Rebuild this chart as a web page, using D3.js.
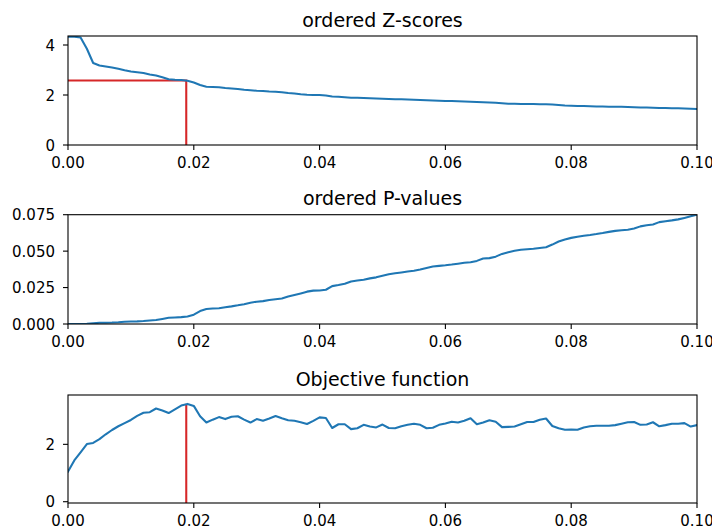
<!DOCTYPE html>
<html>
<head>
<meta charset="utf-8">
<script src="https://cdn.jsdelivr.net/npm/d3@7"></script>
<style>
  body { margin: 0; background: #fff; }
  text { font-family: "DejaVu Sans", sans-serif; fill: #000; }
</style>
</head>
<body>
<div id="my_dataviz"></div>
<script>
// fraction of tests (x axis), one point every 0.001
var fractions = d3.range(101).map(function (i) { return i / 1000; });

// ordered z-scores
var zScores = [4.33, 4.33, 4.30, 3.85, 3.28, 3.18, 3.14, 3.10, 3.05, 2.99,
  2.94, 2.91, 2.88, 2.82, 2.78, 2.71, 2.63, 2.61, 2.60, 2.57,
  2.50, 2.40, 2.33, 2.32, 2.31, 2.28, 2.26, 2.24, 2.21, 2.19,
  2.17, 2.16, 2.14, 2.13, 2.11, 2.08, 2.06, 2.03, 2.01, 2.00,
  2.00, 1.98, 1.94, 1.93, 1.91, 1.89, 1.89, 1.88, 1.87, 1.86,
  1.85, 1.84, 1.83, 1.83, 1.82, 1.81, 1.80, 1.79, 1.78, 1.77,
  1.76, 1.76, 1.75, 1.74, 1.73, 1.72, 1.71, 1.70, 1.69, 1.67,
  1.65, 1.65, 1.64, 1.64, 1.64, 1.63, 1.63, 1.62, 1.60, 1.58,
  1.57, 1.56, 1.56, 1.55, 1.54, 1.54, 1.53, 1.53, 1.53, 1.52,
  1.51, 1.50, 1.50, 1.49, 1.48, 1.48, 1.47, 1.47, 1.46, 1.45, 1.44];

// ordered p-values
var pValues = [0.0000, 0.0000, 0.0000, 0.0001, 0.0005, 0.0008, 0.0009, 0.0010, 0.0012, 0.0015,
  0.0017, 0.0018, 0.0020, 0.0024, 0.0027, 0.0035, 0.0043, 0.0045, 0.0047, 0.0051,
  0.0064, 0.0089, 0.0103, 0.0106, 0.0108, 0.0115, 0.0121, 0.0128, 0.0136, 0.0146,
  0.0153, 0.0157, 0.0165, 0.0170, 0.0175, 0.0188, 0.0199, 0.0210, 0.0222, 0.0229,
  0.0230, 0.0235, 0.0260, 0.0267, 0.0276, 0.0292, 0.0298, 0.0304, 0.0313, 0.0320,
  0.0331, 0.0342, 0.0348, 0.0354, 0.0360, 0.0365, 0.0374, 0.0385, 0.0395, 0.0399,
  0.0403, 0.0408, 0.0414, 0.0420, 0.0424, 0.0433, 0.0449, 0.0452, 0.0462, 0.0481,
  0.0493, 0.0503, 0.0510, 0.0513, 0.0516, 0.0522, 0.0527, 0.0545, 0.0566, 0.0580,
  0.0591, 0.0599, 0.0606, 0.0611, 0.0617, 0.0624, 0.0632, 0.0639, 0.0643, 0.0647,
  0.0655, 0.0670, 0.0677, 0.0683, 0.0699, 0.0705, 0.0711, 0.0718, 0.0728, 0.0739, 0.0750];

// objective function
var objective = [1.05, 1.44, 1.72, 2.01, 2.05, 2.18, 2.35, 2.50, 2.63, 2.74,
  2.85, 2.99, 3.10, 3.12, 3.25, 3.18, 3.09, 3.22, 3.35, 3.41,
  3.34, 2.98, 2.76, 2.86, 2.95, 2.88, 2.96, 2.98, 2.86, 2.76,
  2.88, 2.82, 2.90, 2.99, 2.91, 2.84, 2.82, 2.77, 2.71, 2.82,
  2.94, 2.92, 2.57, 2.70, 2.70, 2.53, 2.56, 2.68, 2.62, 2.59,
  2.69, 2.57, 2.56, 2.63, 2.68, 2.72, 2.68, 2.56, 2.58, 2.68,
  2.73, 2.79, 2.76, 2.82, 2.91, 2.70, 2.76, 2.84, 2.79, 2.60,
  2.61, 2.62, 2.70, 2.78, 2.78, 2.86, 2.90, 2.64, 2.56, 2.51,
  2.52, 2.51, 2.59, 2.63, 2.65, 2.65, 2.65, 2.67, 2.72, 2.77,
  2.78, 2.68, 2.69, 2.77, 2.63, 2.67, 2.72, 2.72, 2.74, 2.62, 2.67];

// threshold found by the objective (red lines)
var cutoffX = 0.0188;
var cutoffZ = 2.58;
var peakValue = 3.41;

// tick labels
var xTicks = [0, 0.02, 0.04, 0.06, 0.08, 0.10];
var zTicks = [0, 2, 4];
var pTicks = [0, 0.025, 0.05, 0.075];
var objTicks = [0, 2];

// panel layout
var width = 712, height = 531;
var left = 68, right = 697;
var panels = [
  { title: "ordered Z-scores", top: 36, bottom: 145, domain: [0, 4.36], ticks: zTicks, fmt: d3.format("d"), values: zScores },
  { title: "ordered P-values", top: 214.7, bottom: 324, domain: [0, 0.075], ticks: pTicks, fmt: d3.format(".3f"), values: pValues },
  { title: "Objective function", top: 395, bottom: 503, domain: [-0.045, 3.72], ticks: objTicks, fmt: d3.format("d"), values: objective }
];

var blue = "#1f77b4", red = "#d62728";
var tickLen = 5, tickPad = 8;
var tickFont = "15px", titleFont = "19px";

var svg = d3.select("#my_dataviz")
  .append("svg")
  .attr("width", width)
  .attr("height", height);

var x = d3.scaleLinear().domain([0, 0.1]).range([left, right]);

panels.forEach(function (p, k) {
  var y = d3.scaleLinear().domain(p.domain).range([p.bottom, p.top]);
  var g = svg.append("g");

  var clipId = "clip" + k;
  svg.append("clipPath").attr("id", clipId)
    .append("rect")
    .attr("x", left).attr("y", p.top)
    .attr("width", right - left).attr("height", p.bottom - p.top);

  var plot = g.append("g").attr("clip-path", "url(#" + clipId + ")");

  // red threshold lines
  if (k === 0) {
    plot.append("path")
      .attr("fill", "none")
      .attr("stroke", red)
      .attr("stroke-width", 2.08)
      .attr("d", d3.line()([[x(0), y(cutoffZ)], [x(cutoffX), y(cutoffZ)], [x(cutoffX), y(0)]]));
  }
  if (k === 2) {
    plot.append("line")
      .attr("x1", x(cutoffX)).attr("x2", x(cutoffX))
      .attr("y1", y(p.domain[0])).attr("y2", y(peakValue))
      .attr("stroke", red)
      .attr("stroke-width", 2.08);
  }

  // the data line
  plot.append("path")
    .datum(p.values)
    .attr("fill", "none")
    .attr("stroke", blue)
    .attr("stroke-width", 2.08)
    .attr("stroke-linejoin", "round")
    .attr("stroke-linecap", "square")
    .attr("d", d3.line()
      .x(function (d, i) { return x(fractions[i]); })
      .y(function (d) { return y(d); }));

  // frame
  g.append("rect")
    .attr("x", left).attr("y", p.top)
    .attr("width", right - left).attr("height", p.bottom - p.top)
    .attr("fill", "none")
    .attr("stroke", "#000")
    .attr("stroke-width", 1.1);

  // x axis
  var xa = g.append("g");
  xa.selectAll("line")
    .data(xTicks).enter()
    .append("line")
    .attr("x1", x).attr("x2", x)
    .attr("y1", p.bottom).attr("y2", p.bottom + tickLen)
    .attr("stroke", "#000").attr("stroke-width", 1.1);
  xa.selectAll("text")
    .data(xTicks).enter()
    .append("text")
    .attr("x", x)
    .attr("y", p.bottom + 23.3)
    .attr("text-anchor", "middle")
    .style("font-size", tickFont)
    .text(d3.format(".2f"));

  // y axis
  var ya = g.append("g");
  ya.selectAll("line")
    .data(p.ticks).enter()
    .append("line")
    .attr("x1", left - tickLen).attr("x2", left)
    .attr("y1", y).attr("y2", y)
    .attr("stroke", "#000").attr("stroke-width", 1.1);
  ya.selectAll("text")
    .data(p.ticks).enter()
    .append("text")
    .attr("x", left - tickLen - tickPad)
    .attr("y", function (d) { return y(d) + 5.5; })
    .attr("text-anchor", "end")
    .style("font-size", tickFont)
    .text(p.fmt);

  // title
  g.append("text")
    .attr("x", (left + right) / 2)
    .attr("y", p.top - 9.3)
    .attr("text-anchor", "middle")
    .style("font-size", titleFont)
    .text(p.title);
});
</script>
</body>
</html>
